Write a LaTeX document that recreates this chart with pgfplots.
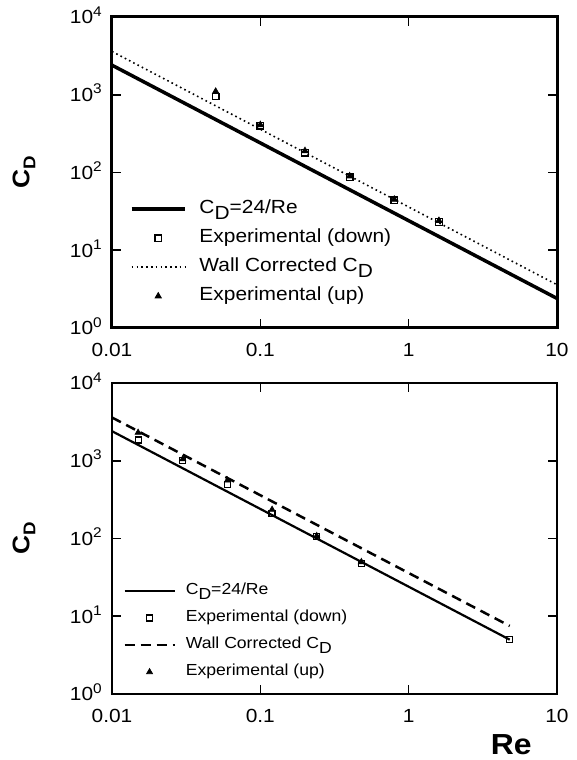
\documentclass[border=0pt]{standalone}
\usepackage{fontspec}
\setmainfont[FakeStretch=1.1]{Liberation Sans}
\usepackage{pgfplots}
\pgfplotsset{compat=1.18}
\newcommand\tp[1]{10\raisebox{0.42em}{\fontsize{14bp}{14bp}\selectfont #1}}
\newcommand\CD{C\raisebox{-0.3em}{D}}
\pgfplotsset{
  every axis/.append style={
    width=445bp, height=311bp, scale only axis,
    xmin=0.01, xmax=10, ymin=1, ymax=10000,
    xtick={0.01,0.1,1,10}, xticklabels={0.01,0.1,1,10},
    ytick={1,10,100,1000,10000},
    yticklabels={\tp{0},\tp{1},\tp{2},\tp{3},\tp{4}},
    tick align=inside, major tick length=9bp, minor tick length=0pt,
    every tick/.style={line width=1.6bp, black},
    ticklabel style={font=\fontsize{19bp}{21bp}\selectfont},
    xticklabel style={inner sep=0pt, anchor=north, yshift=-15bp},
    yticklabel style={inner sep=0pt, anchor=base east, xshift=-10bp, yshift=-7bp},
    ylabel style={at={(axis description cs:-0.198,0.5)}, anchor=center},
    legend cell align=left,
    clip=false,
  },
}
\begin{document}
\begin{tikzpicture}
\useasboundingbox (0,0) rectangle (577bp,760bp);
% ---------- top panel ----------
\begin{loglogaxis}[at={(112bp,432bp)}, anchor=south west,
  ylabel={\fontsize{24bp}{26bp}\selectfont\bfseries C\raisebox{-0.25em}{\fontsize{17bp}{17bp}\selectfont D}},
  legend style={draw=none, fill=none, inner sep=0pt, row sep=12bp,
    at={(axis description cs:0.040,0.41)}, anchor=north west,
    font=\fontsize{19bp}{21bp}\selectfont,
    nodes={inner sep=0pt, text height=13bp, text depth=4bp},
    column sep=13bp},
]
\addplot[black, line width=3.5bp,
  legend image code/.code={\draw[black, line width=3.5bp] (0bp,0bp) -- (53bp,0bp);}]
  coordinates {(0.01,2400) (10,2.4)};
\addlegendentry{\CD=24/Re}
\addplot[black, only marks, mark=square, mark size=3.3bp, line width=1.3bp,
  legend image code/.code={\draw[black, line width=1.3bp, mark size=3.3bp] plot[only marks, mark=square] coordinates {(26.5bp,0bp)};}]
  coordinates {(0.05,950) (0.1,400) (0.2,180) (0.4,87) (0.8,44) (1.6,23)};
\addlegendentry{Experimental (down)}
\addplot[black, line width=1.6bp, dash pattern=on 1.6bp off 3.2bp,
  legend image code/.code={\draw[black, line width=1.6bp, dash pattern=on 1.6bp off 3.2bp] (0bp,0bp) -- (53bp,0bp);}]
  coordinates {(0.01,3600) (10,3.6)};
\addlegendentry{Wall Corrected \CD}
\addplot[black, only marks, mark=triangle*, mark size=3.6bp, line width=0.8bp,
  legend image code/.code={\draw[black, line width=0.8bp, mark size=3.6bp] plot[only marks, mark=triangle*] coordinates {(26.5bp,0bp)};}]
  coordinates {(0.05,1100) (0.1,410) (0.2,190) (0.4,90) (0.8,45) (1.6,24)};
\addlegendentry{Experimental (up)}
\draw[black, line width=3bp, line join=miter] (axis cs:0.01,1) rectangle (axis cs:10,10000);
\end{loglogaxis}
% ---------- bottom panel ----------
\begin{loglogaxis}[at={(112bp,66bp)}, anchor=south west,
  ylabel={\fontsize{24bp}{26bp}\selectfont\bfseries C\raisebox{-0.25em}{\fontsize{17bp}{17bp}\selectfont D}},
  xlabel={\fontsize{29bp}{31bp}\selectfont\bfseries Re},
  xlabel style={at={(axis description cs:0.897,0)}, anchor=center, yshift=-51bp},
  legend style={draw=none, fill=none, inner sep=0pt, row sep=12.5bp,
    at={(axis description cs:0.025,0.355)}, anchor=north west,
    font=\fontsize{16bp}{18bp}\selectfont,
    nodes={inner sep=0pt, text height=11bp, text depth=3.5bp},
    column sep=10bp},
]
\addplot[black, line width=2.2bp,
  legend image code/.code={\draw[black, line width=2.2bp] (0bp,0bp) -- (50bp,0bp);}]
  coordinates {(0.01,2400) (4.8,5)};
\addlegendentry{\CD=24/Re}
\addplot[black, only marks, mark=square, mark size=3bp, line width=1.2bp,
  legend image code/.code={\draw[black, line width=1.2bp, mark size=3bp] plot[only marks, mark=square] coordinates {(25bp,0bp)};}]
  coordinates {(0.015,1850) (0.03,1000) (0.06,500) (0.12,210) (0.24,105) (0.48,48) (4.8,5)};
\addlegendentry{Experimental (down)}
\addplot[black, line width=2.5bp, dash pattern=on 10bp off 6bp,
  legend image code/.code={\draw[black, line width=2.5bp, dash pattern=on 10bp off 6bp] (0bp,0bp) -- (50bp,0bp);}]
  coordinates {(0.01,3600) (4.8,7.5)};
\addlegendentry{Wall Corrected \CD}
\addplot[black, only marks, mark=triangle*, mark size=3.4bp, line width=0.8bp,
  legend image code/.code={\draw[black, line width=0.8bp, mark size=3.4bp] plot[only marks, mark=triangle*] coordinates {(25bp,0bp)};}]
  coordinates {(0.015,2300) (0.03,1050) (0.06,560) (0.12,235) (0.24,108) (0.48,50)};
\addlegendentry{Experimental (up)}
\draw[black, line width=2.6bp, line join=miter] (axis cs:0.01,1) rectangle (axis cs:10,10000);
\end{loglogaxis}
\end{tikzpicture}
\end{document}
